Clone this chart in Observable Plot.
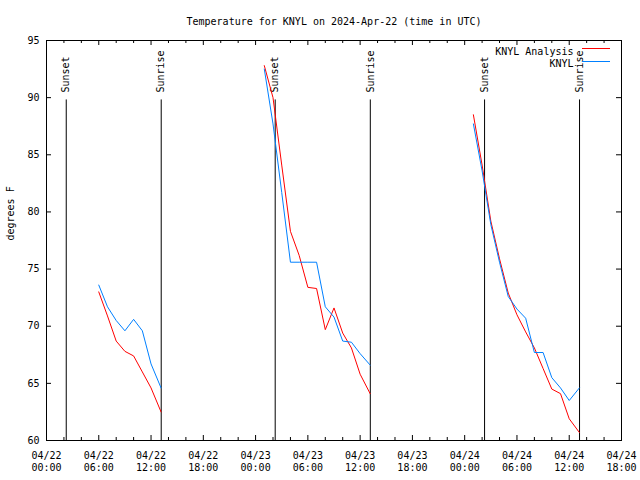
<!DOCTYPE html>
<html><head><meta charset="utf-8">
<script src="https://cdn.jsdelivr.net/npm/d3@7"></script>
<script src="https://cdn.jsdelivr.net/npm/@observablehq/plot@0.6"></script>
<style>body{margin:0;background:#fff} svg{display:block}</style>
</head><body><div id="chart"></div>
<script>
const title = "Temperature for KNYL on 2024-Apr-22 (time in UTC)";
const yLabel = "degrees F";
const seriesNames = ["KNYL Analysis", "KNYL"];
const seriesColors = ["#ff0000", "#0080ff"];

const analysisTime = [
  "2024-04-22T06:00Z","2024-04-22T07:00Z","2024-04-22T08:00Z","2024-04-22T09:00Z","2024-04-22T10:00Z","2024-04-22T11:00Z","2024-04-22T12:00Z","2024-04-22T13:09Z",
  "2024-04-23T01:00Z","2024-04-23T02:00Z","2024-04-23T03:00Z","2024-04-23T04:00Z","2024-04-23T05:00Z","2024-04-23T06:00Z","2024-04-23T07:00Z","2024-04-23T08:00Z","2024-04-23T09:00Z","2024-04-23T10:00Z","2024-04-23T11:00Z","2024-04-23T12:00Z","2024-04-23T13:09Z",
  "2024-04-24T01:00Z","2024-04-24T02:00Z","2024-04-24T03:00Z","2024-04-24T04:00Z","2024-04-24T05:00Z","2024-04-24T06:00Z","2024-04-24T07:00Z","2024-04-24T08:00Z","2024-04-24T09:00Z","2024-04-24T10:00Z","2024-04-24T11:00Z","2024-04-24T12:00Z","2024-04-24T13:10Z"
];
const analysisTemp = [
  73.0, 70.9, 68.7, 67.8, 67.4, 66.0, 64.6, 62.5,
  92.8, 90.0, 84.1, 78.3, 76.2, 73.4, 73.3, 69.7, 71.6, 69.4, 68.1, 65.8, 64.1,
  88.5, 84.1, 79.2, 75.9, 72.9, 71.0, 69.5, 68.1, 66.3, 64.5, 64.1, 61.9, 60.7
];
const obsTime = analysisTime;
const obsTemp = [
  73.6, 71.7, 70.5, 69.6, 70.6, 69.6, 66.7, 64.6,
  92.5, 87.7, 81.7, 75.6, 75.6, 75.6, 75.6, 71.7, 70.8, 68.7, 68.6, 67.6, 66.6,
  87.7, 83.6, 78.9, 75.6, 72.6, 71.5, 70.7, 67.7, 67.7, 65.5, 64.6, 63.5, 64.6
];

const eventTime = ["2024-04-22T02:16Z","2024-04-22T13:10Z","2024-04-23T02:15Z","2024-04-23T13:10Z","2024-04-24T02:17Z","2024-04-24T13:11Z"];
const eventLabel = ["Sunset","Sunrise","Sunset","Sunrise","Sunset","Sunrise"];
const eventLineTop = 89.8;
const eventLabelBase = 90.45;

const xTickTime = ["2024-04-22T00:00Z","2024-04-22T06:00Z","2024-04-22T12:00Z","2024-04-22T18:00Z","2024-04-23T00:00Z","2024-04-23T06:00Z","2024-04-23T12:00Z","2024-04-23T18:00Z","2024-04-24T00:00Z","2024-04-24T06:00Z","2024-04-24T12:00Z","2024-04-24T18:00Z"];
const yTickValues = [60, 65, 70, 75, 80, 85, 90, 95];

const W = 640, H = 480, mL = 46, mR = 19, mT = 40, mB = 40;
const fw = W - mL - mR, fh = H - mT - mB;

const toRows = (times, temps) => times.map((t, i) => ({time: new Date(t), temp: temps[i], day: t.slice(0, 10)}));
const analysis = toRows(analysisTime, analysisTemp);
const obs = toRows(obsTime, obsTemp);
const events = eventTime.map((t, i) => ({time: new Date(t), label: eventLabel[i]}));
const majorX = xTickTime.map(t => new Date(t));
const minorX = d3.utcHour.every(2).range(majorX[0], majorX[majorX.length - 1]).filter(d => d.getUTCHours() % 6 !== 0);
const fmt = d3.utcFormat("%m/%d\n%H:%M");

const chart = Plot.plot({
  width: W, height: H,
  marginLeft: mL, marginRight: mR, marginTop: mT, marginBottom: mB,
  style: {fontFamily: "'DejaVu Sans Mono', monospace", fontSize: "10px", background: "white", color: "black"},
  x: {type: "utc", domain: [majorX[0], majorX[majorX.length - 1]], axis: null},
  y: {domain: [60, 95], axis: null},
  marks: [
    Plot.tickX(majorX, {x: d => d, insetTop: fh - 5, stroke: "black"}),
    Plot.tickX(majorX, {x: d => d, insetBottom: fh - 5, stroke: "black"}),
    Plot.tickX(minorX, {x: d => d, insetTop: fh - 3, stroke: "black"}),
    Plot.tickX(minorX, {x: d => d, insetBottom: fh - 3, stroke: "black"}),
    Plot.tickY(yTickValues, {y: d => d, insetRight: fw - 5, stroke: "black"}),
    Plot.tickY(yTickValues, {y: d => d, insetLeft: fw - 5, stroke: "black"}),
    Plot.text(majorX, {x: d => d, text: d => fmt(d), frameAnchor: "bottom", lineAnchor: "top", dy: 10, lineHeight: 1.2, fill: "black"}),
    Plot.text(yTickValues, {y: d => d, text: d => String(d), frameAnchor: "left", textAnchor: "end", dx: -7, fill: "black"}),
    Plot.text([yLabel], {frameAnchor: "left", dx: -36, rotate: -90, fill: "black"}),
    Plot.text([title], {frameAnchor: "top", dy: -23, fill: "black"}),
    Plot.ruleX(events, {x: "time", y1: 60, y2: eventLineTop, stroke: "black"}),
    Plot.text(events, {x: "time", y: eventLabelBase, text: "label", rotate: -90, textAnchor: "start", lineAnchor: "middle", fill: "black"}),
    Plot.line(analysis, {x: "time", y: "temp", z: "day", stroke: seriesColors[0], strokeWidth: 1, curve: "linear"}),
    Plot.line(obs, {x: "time", y: "temp", z: "day", stroke: seriesColors[1], strokeWidth: 1, curve: "linear"}),
    Plot.text([seriesNames[0]], {frameAnchor: "top-right", dx: -48, dy: 7, textAnchor: "end", fill: "black"}),
    Plot.text([seriesNames[1]], {frameAnchor: "top-right", dx: -48, dy: 19, textAnchor: "end", fill: "black"}),
    Plot.frame({stroke: "black"})
  ]
});

const svg = d3.select(chart);
[[48.5, seriesColors[0]], [61.5, seriesColors[1]]].forEach(([y, c]) => {
  svg.append("line").attr("x1", 582).attr("x2", 610).attr("y1", y).attr("y2", y)
    .attr("stroke", c).attr("stroke-width", 1);
});
document.getElementById("chart").appendChild(chart);
</script>
</body></html>
